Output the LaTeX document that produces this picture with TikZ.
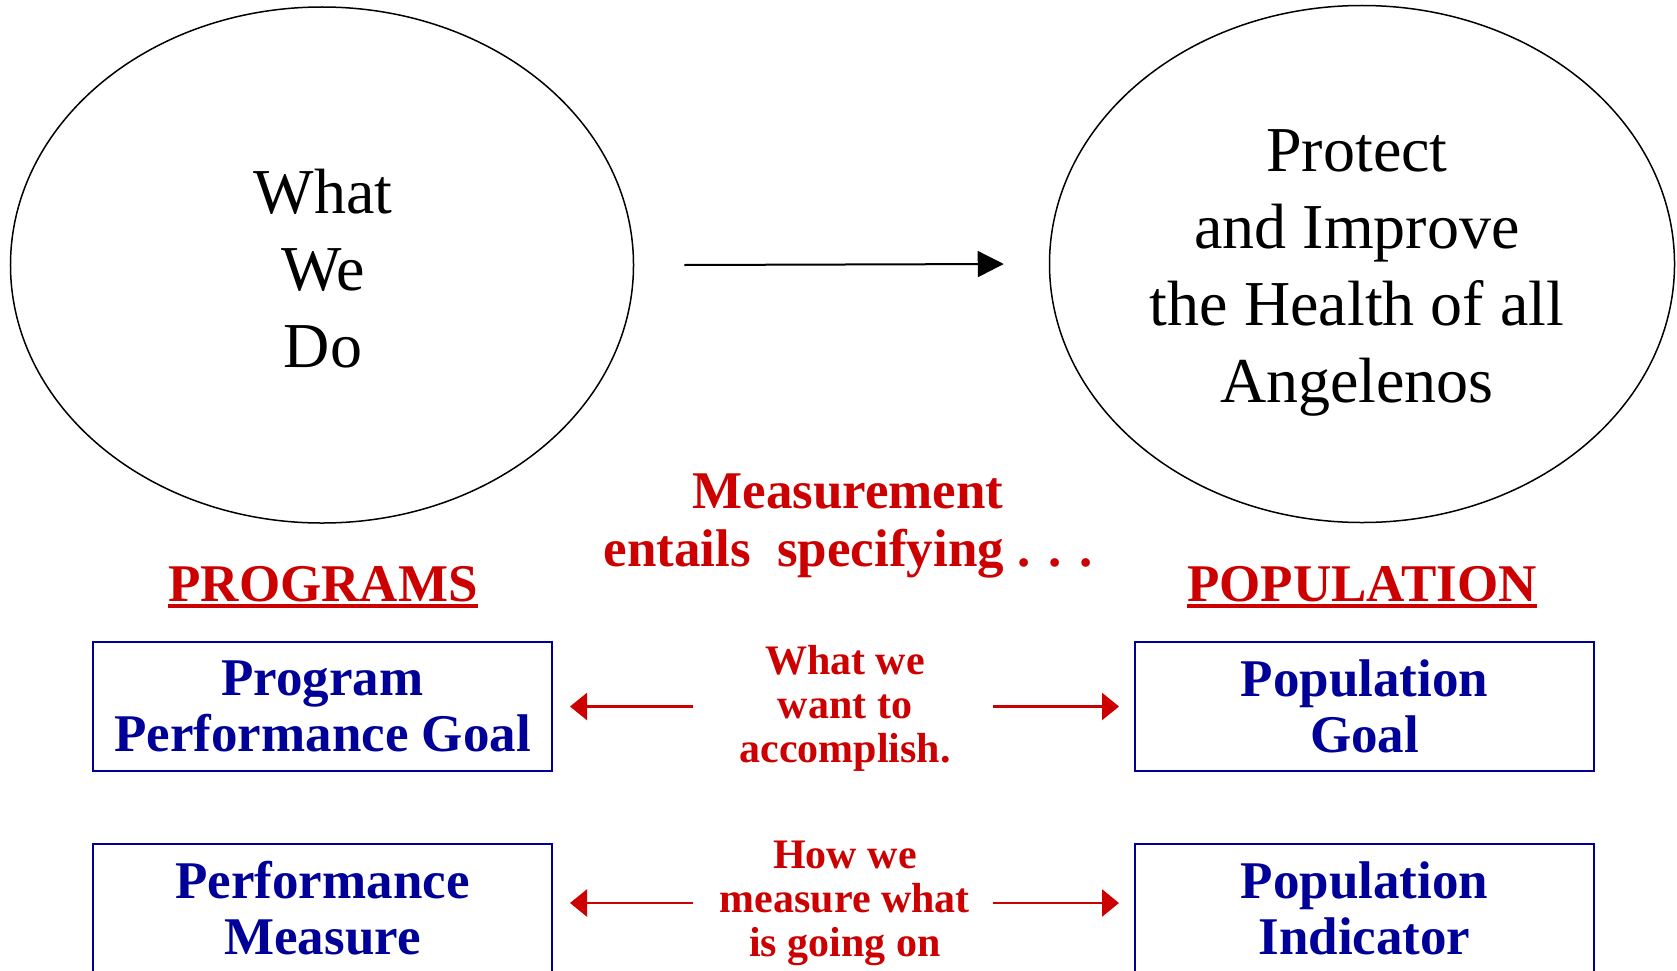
\documentclass[tikz,border=0pt]{standalone}
\usepackage{fontspec}
\setmainfont{Liberation Serif}
\usetikzlibrary{shapes.geometric,arrows.meta,positioning}

\definecolor{lared}{RGB}{204,0,0}
\definecolor{lablue}{RGB}{0,0,153}

\tikzset{
	bubble/.style={ellipse,draw,line width=1.5bp,inner sep=0pt},
	bubbletext/.style={align=center,inner sep=0pt,font=\fontsize{64bp}{77bp}\selectfont},
	goalbox/.style={rectangle,draw=lablue,line width=2bp,minimum width=459bp,minimum height=129bp,inner sep=0pt,align=center,text=lablue,font=\fontsize{53bp}{56bp}\selectfont\bfseries},
	redtext/.style={text=lared,align=center,inner sep=0pt},
	heading/.style={redtext,anchor=base,font=\fontsize{53bp}{58bp}\selectfont\bfseries},
	midtext/.style={redtext,font=\fontsize{42bp}{44bp}\selectfont\bfseries},
	underlined/.style={draw=lared,line width=4bp},
	blackarrow/.style={line width=2bp,-{Triangle[length=26bp,width=26bp]}},
	redarrow/.style={draw=lared,line width=2.5bp,-{Triangle[length=17bp,width=27bp]}},
}

\begin{document}
\begin{tikzpicture}[x=1bp,y=-1bp]
		
		\useasboundingbox (0,0) rectangle (1677,970);
		\clip (0,0) rectangle (1677,970);
		
		% the two bubbles
		\node (wwd) at (322,265) [bubble,minimum width=623bp,minimum height=516bp] {};
		\node (phi) at (1362,264) [bubble,minimum width=625bp,minimum height=517bp] {};
		\node (wwdtext) at (323,269) [bubbletext] {What\\We\\Do};
		\node (phitext) at (1357,272.5) [bubbletext] {Protect\\and Improve\\the Health of all\\Angelenos};
		\draw[blackarrow] ([xshift=50bp]wwd.east) -- ([xshift=-45bp]phi.west);
		
		\node (meas) at (848,526) [redtext,font=\fontsize{53bp}{58bp}\selectfont\bfseries] {Measurement\\entails\ \ specifying . . .};
		
		% column headings
		\node (programs) at (323,601) [heading] {PROGRAMS};
		\node (population) at (1362,601) [heading] {POPULATION};
		\draw[underlined] ([yshift=-5bp]programs.base west) -- ([yshift=-5bp]programs.base east);
		\draw[underlined] ([yshift=-5bp]population.base west) -- ([yshift=-5bp]population.base east);
		
		% boxes
		\node (pgoal) at (322.5,706.5) [goalbox] {Program\\Performance Goal};
		\node (popgoal) [goalbox, right=581bp of pgoal] {Population\\Goal};
		\node (pmeas) [goalbox, below=71bp of pgoal] {Performance\\Measure};
		\node (popind) [goalbox, below=71bp of popgoal] {Population\\Indicator};
		
		% middle texts
		\node (want) at (845,708) [midtext] {What we\\want to\\accomplish.};
		\node (how) at (845,903) [midtext] {How we\\measure what\\is going on};
		
		\coordinate (wl) at ([xshift=-152bp]want.center);
		\coordinate (wr) at ([xshift=148bp]want.center);
		\coordinate (hl) at ([xshift=-152bp]how.center);
		\coordinate (hr) at ([xshift=148bp]how.center);
		
		\draw[redarrow,shorten >=17bp] (wl |- pgoal.east) -- (pgoal.east);
		\draw[redarrow,shorten >=15bp] (wr |- popgoal.west) -- (popgoal.west);
		\draw[redarrow,shorten >=17bp] (hl) -- (hl -| pmeas.east);
		\draw[redarrow,shorten >=15bp] (hr) -- (hr -| popind.west);
		
	\end{tikzpicture}
\end{document}
